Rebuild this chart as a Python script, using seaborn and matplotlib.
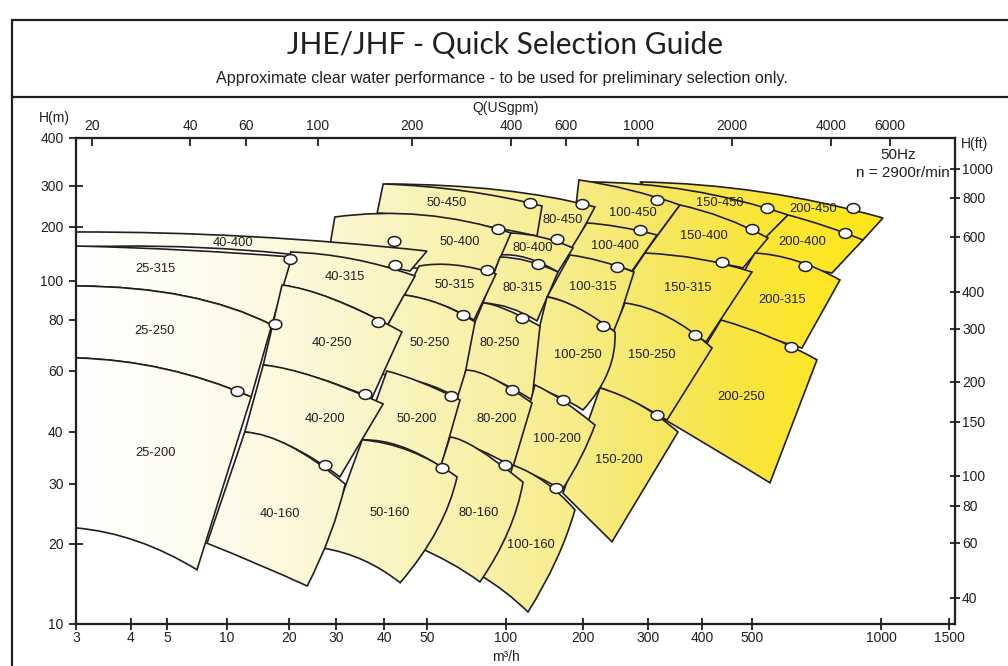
"""
JHE/JHF quick selection guide - pump coverage tiles on the printed
(non-uniform) Q / H grid of the original sheet.
"""
import matplotlib

matplotlib.use("Agg")
import matplotlib.pyplot as plt
import numpy as np
import pandas as pd
import seaborn as sns
from matplotlib.colors import LinearSegmentedColormap
from matplotlib.lines import Line2D
from matplotlib.patches import PathPatch
from matplotlib.path import Path
from matplotlib.ticker import NullLocator

# ─── Printed axis grids (tick value -> where the sheet prints it) ───
Q_GRID = [3, 4, 5, 10, 20, 30, 40, 50, 100, 200, 300, 400, 500, 1000, 1500]
Q_GRID_POS = [76, 131, 167, 227, 289, 336, 384, 427, 506, 583, 648, 702, 752, 881, 949]
H_GRID = [10, 20, 30, 40, 60, 80, 100, 200, 300, 400]
H_GRID_POS = [624, 544, 484, 432, 371, 320, 281, 227, 186, 138]
GPM_GRID = [20, 40, 60, 100, 200, 400, 600, 1000, 2000, 4000, 6000]
GPM_GRID_POS = [92, 190, 246, 318, 412, 511, 566, 638, 732, 831, 890]
FT_GRID = [40, 60, 80, 100, 150, 200, 300, 400, 600, 800, 1000]
FT_GRID_POS = [598, 543, 506, 476, 422, 382, 329, 292, 237, 198, 169]

Q_LIM = (3, 1555)
H_LIM = (10, 400)

# ─── Pump tiles (Q in m3/h, H in m) ───
TILES = ["25-315", "25-250", "25-200", "40-400", "40-315", "40-250", "40-200", "40-160",
         "50-450", "50-400", "50-315", "50-250", "50-200", "50-160",
         "80-450", "80-400", "80-315", "80-250", "80-200", "80-160",
         "100-450", "100-400", "100-315", "100-250", "100-200", "100-160",
         "150-450", "150-400", "150-315", "150-250", "150-200",
         "200-450", "200-400", "200-315", "200-250"]

TOP_LEFT = [(3.0, 156.7), (3.0, 97.2), (3.0, 64.6), (3.0, 187.6), (20.3, 145.1), (18.5, 97.7), (15.0, 62.1), (12.2, 40.0),
            (39.8, 303.7), (29.7, 220.8), (48.0, 121.2), (44.4, 92.3), (40.6, 60.0), (35.1, 38.3),
            (40.4, 303.7), (103.7, 185.2), (94.9, 136.1), (81.7, 88.2), (70.4, 60.3), (61.2, 38.9),
            (192.9, 311.1), (205.0, 208.2), (177.9, 139.6), (144.7, 91.3), (129.8, 54.7), (106.5, 33.3),
            (208.9, 307.4), (355.8, 248.6), (294.4, 143.2), (259.9, 88.2), (222.4, 53.6),
            (285.4, 307.4), (606.7, 225.3), (508.1, 143.2), (435.5, 80.0)]

TOP_RIGHT = [(20.5, 136.1), (16.5, 77.8), (13.1, 50.5), (50.0, 146.9), (47.0, 106.6), (43.9, 74.8), (39.8, 48.2), (31.7, 30.0),
             (138.3, 246.2), (104.6, 185.2), (91.6, 109.4), (76.2, 79.1), (66.8, 49.5), (65.1, 31.2),
             (215.5, 243.8), (182.8, 152.8), (159.7, 112.2), (135.8, 77.3), (126.4, 48.5), (116.6, 30.3),
             (355.8, 248.6), (314.8, 180.5), (274.9, 112.2), (244.2, 74.8), (215.5, 41.9), (186.1, 25.2),
             (606.7, 225.3), (544.9, 173.7), (500.0, 112.2), (418.4, 68.3), (352.0, 40.0),
             (1012, 218.7), (907.8, 169.3), (802.2, 101.3), (709.0, 63.9)]

BOTTOM_RIGHT = [(16.5, 77.8), (13.1, 50.5), (7.07, 16.0), (45.8, 113.7), (40.8, 77.8), (37.2, 50.1), (30.7, 31.2), (23.4, 13.9),
                (132.2, 178.2), (90.0, 112.2), (75.5, 80.0), (66.8, 49.5), (56.5, 33.0), (43.5, 14.3),
                (182.8, 152.8), (159.7, 112.2), (132.2, 79.6), (126.4, 49.5), (106.5, 33.0), (79.6, 14.4),
                (314.8, 178.2), (271.5, 113.7), (244.2, 74.8), (200.0, 46.3), (165.5, 28.8), (121.9, 11.1),
                (542.0, 175.9), (480.4, 118.2), (407.3, 70.7), (331.9, 43.3), (239.7, 20.3),
                (907.8, 169.3), (768.4, 110.8), (654.1, 68.3), (550.8, 30.2)]

BOTTOM_LEFT = [(3.0, 97.2), (3.0, 64.6), (3.0, 22.3), (3.0, 154.7), (18.5, 97.7), (15.0, 62.1), (12.2, 40.0), (7.94, 20.1),
               (38.4, 229.7), (27.8, 127.6), (44.4, 92.3), (35.1, 59.6), (35.1, 38.3), (26.8, 19.3),
               (39.1, 204.1), (94.0, 139.6), (81.7, 88.2), (63.9, 60.3), (58.6, 38.9), (47.0, 19.7),
               (184.5, 210.2), (167.0, 127.6), (144.7, 91.3), (118.7, 54.7), (106.5, 33.1), (79.6, 15.3),
               (251.9, 169.3), (281.8, 127.6), (236.7, 87.2), (211.5, 54.7), (167.0, 28.2),
               (395.9, 169.3), (484.7, 134.3), (424.0, 80.0), (323.3, 43.9)]

# one point read on each curved edge, roughly halfway along it
TOP_MID = [(6.02, 148.9), (6.16, 91.8), (4.94, 60.7), (12.9, 177.0), (33.2, 132.6), (29.2, 90.2), (25.0, 57.7), (20.2, 37.0),
           (69.8, 285.5), (49.0, 225.3), (63.9, 122.8), (56.0, 87.7), (48.2, 55.8), (45.8, 36.0),
           (94.9, 288.4), (137.0, 175.9), (121.9, 129.3), (99.1, 85.2), (88.4, 57.3), (78.2, 36.4),
           (268.2, 288.4), (251.9, 200.0), (222.4, 129.3), (191.2, 85.7), (167.0, 49.2), (142.1, 30.3),
           (375.3, 287.0), (441.3, 218.7), (395.9, 132.6), (333.7, 81.4), (285.4, 47.9),
           (527.6, 282.7), (740.1, 202.0), (636.8, 129.3), (550.8, 72.7)]

BOTTOM_MID = [(6.16, 91.8), (4.94, 60.7), (4.15, 20.4), (12.0, 148.9), (29.2, 90.2), (25.0, 57.7), (20.2, 37.0), (14.1, 16.8),
              (63.9, 212.3), (45.8, 118.2), (56.0, 87.7), (48.2, 55.8), (43.5, 37.0), (35.3, 17.4),
              (79.6, 169.3), (120.8, 134.3), (103.7, 85.7), (86.9, 57.3), (78.2, 36.4), (61.2, 17.0),
              (244.2, 192.4), (222.4, 126.0), (186.1, 86.2), (155.4, 51.2), (133.4, 31.2), (99.1, 13.2),
              (395.9, 180.5), (395.9, 127.6), (319.9, 80.9), (268.2, 49.5), (205.0, 24.0),
              (581.2, 178.2), (613.3, 122.8), (521.9, 73.5), (425.9, 36.2)]

# tiles whose right edge is visibly bowed
RIGHT_MID = {"40-160": (28.5, 21.3), "50-160": (54.6, 22.0), "80-160": (101.8, 21.7),
             "100-160": (156.8, 17.3), "100-250": (233.8, 59.6), "100-200": (196.4, 34.8)}

# best efficiency points (open circles)
BEP = [(20.2, 132.6), (17.1, 78.2), (11.2, 52.5), (42.1, 167.1), (42.4, 122.8), (38.6, 79.1), (35.7, 51.5), (27.3, 33.3),
       (124.1, 253.6), (93.2, 194.9), (84.7, 115.2), (68.6, 82.3), (61.7, 50.8), (57.0, 32.8),
       (198.2, 251.1), (158.2, 171.4), (133.4, 124.4), (115.5, 80.9), (105.5, 52.9), (99.1, 33.3),
       (314.8, 261.2), (285.4, 192.4), (247.3, 119.7), (226.6, 77.3), (167.0, 49.5), (156.8, 29.2),
       (542.0, 241.3), (500.0, 194.9), (437.4, 127.6), (385.5, 73.5), (314.8, 44.8),
       (860.2, 241.3), (824.1, 185.2), (664.8, 121.2), (616.6, 68.7)]

LABEL_AT = [(4.64, 116.7), (4.64, 75.2), (4.67, 35.6), (10.7, 162.8), (31.7, 105.3), (29.0, 70.3), (27.3, 43.6), (18.1, 24.5),
            (59.6, 253.6), (66.8, 165.0), (63.9, 97.7), (51.3, 70.3), (47.5, 43.6), (41.3, 24.7),
            (167.0, 214.4), (127.5, 152.8), (116.6, 96.1), (94.9, 70.3), (92.4, 43.6), (78.9, 24.7),
            (273.3, 229.7), (244.2, 156.7), (212.9, 96.6), (191.2, 65.7), (158.2, 38.5), (125.3, 19.8),
            (433.5, 253.6), (403.6, 178.2), (371.3, 96.1), (306.5, 65.7), (250.4, 34.3),
            (694.0, 238.9), (654.1, 165.0), (587.5, 89.7), (476.2, 50.5)]

# ─── Style ───
GRAD_STOPS = [0.0, 0.14, 0.29, 0.48, 0.57, 0.655, 0.76, 0.88, 1.0]
GRAD_COLORS = ["#FFFFFF", "#FEFDF0", "#FBF7D2", "#F8F0A3", "#F7EC88",
               "#F6E866", "#F9E53F", "#FFE71F", "#FFE714"]
INK = "#231f20"
W, H = 1008, 666


def printed_scale(values, positions):
    """Piecewise log mapping through the sheet's own tick grid."""
    lv = np.log10(np.asarray(values, float))
    ps = np.asarray(positions, float)

    def fwd(v):
        lx = np.log10(np.maximum(np.asarray(v, float), 1e-12))
        mid = np.interp(lx, lv, ps)
        lo = ps[0] + (lx - lv[0]) * (ps[1] - ps[0]) / (lv[1] - lv[0])
        hi = ps[-1] + (lx - lv[-1]) * (ps[-1] - ps[-2]) / (lv[-1] - lv[-2])
        return np.where(lx < lv[0], lo, np.where(lx > lv[-1], hi, mid))

    def inv(p):
        p = np.asarray(p, float)
        mid = np.interp(p, ps, lv)
        lo = lv[0] + (p - ps[0]) * (lv[1] - lv[0]) / (ps[1] - ps[0])
        hi = lv[-1] + (p - ps[-1]) * (lv[-1] - lv[-2]) / (ps[-1] - ps[-2])
        return 10 ** np.where(p < ps[0], lo, np.where(p > ps[-1], hi, mid))

    return fwd, inv


q_fwd, q_inv = printed_scale(Q_GRID, Q_GRID_POS)
h_fwd, h_inv = printed_scale(H_GRID, [-p for p in H_GRID_POS])
g_fwd, g_inv = printed_scale(GPM_GRID, GPM_GRID_POS)
f_fwd, f_inv = printed_scale(FT_GRID, [-p for p in FT_GRID_POS])


def ctrl(p0, mid, p1):
    """Quadratic bezier control point so the edge passes through `mid`."""
    s = lambda p: np.array([float(q_fwd(p[0])), float(h_fwd(p[1]))])
    c = 2 * s(mid) - (s(p0) + s(p1)) / 2
    return (float(q_inv(c[0])), float(h_inv(c[1])))


def tile_path(i):
    name = TILES[i]
    tl, tr, br, bl = TOP_LEFT[i], TOP_RIGHT[i], BOTTOM_RIGHT[i], BOTTOM_LEFT[i]
    verts = [tl, ctrl(tl, TOP_MID[i], tr), tr]
    codes = [Path.MOVETO, Path.CURVE3, Path.CURVE3]
    if name in RIGHT_MID:
        verts += [ctrl(tr, RIGHT_MID[name], br), br]
        codes += [Path.CURVE3, Path.CURVE3]
    else:
        verts += [br]
        codes += [Path.LINETO]
    verts += [ctrl(br, BOTTOM_MID[i], bl), bl, tl]
    codes += [Path.CURVE3, Path.CURVE3, Path.CLOSEPOLY]
    return Path(verts, codes)


def main():
    sns.set_style("white")
    plt.rcParams["font.family"] = ["Liberation Sans", "DejaVu Sans"]

    fig = plt.figure(figsize=(W / 100, H / 100), dpi=100)
    ax = fig.add_axes([76 / W, (H - 624) / H, (955 - 76) / W, (624 - 138) / H])
    ax.set_xscale("function", functions=(q_fwd, q_inv))
    ax.set_yscale("function", functions=(h_fwd, h_inv))
    ax.set_xlim(*Q_LIM)
    ax.set_ylim(*H_LIM)
    ax.set_autoscale_on(False)

    cmap = LinearSegmentedColormap.from_list("sheet", list(zip(GRAD_STOPS, GRAD_COLORS)))
    grad = np.linspace(0, 1, 512).reshape(1, -1)

    # higher heads behind, then right to left inside a row
    order = sorted(range(len(TILES)),
                   key=lambda i: (-int(TILES[i].split("-")[1]), -int(TILES[i].split("-")[0])))
    for k, i in enumerate(order):
        z = 1 + 0.02 * k
        patch = PathPatch(tile_path(i), facecolor="none", edgecolor=INK, lw=1.2, zorder=z + 0.01)
        ax.add_patch(patch)
        im = ax.imshow(grad, cmap=cmap, extent=(0, 1, 0, 1), transform=ax.transAxes,
                       aspect="auto", interpolation="bilinear", zorder=z)
        im.set_clip_path(patch)

    circ = Path.unit_circle()
    ellipse = Path(circ.vertices * np.array([1.3, 1.0]), circ.codes)
    bep = pd.DataFrame(BEP, columns=["Q", "H"])
    sns.scatterplot(data=bep, x="Q", y="H", ax=ax, marker=ellipse, s=85, color="white",
                    edgecolor=INK, linewidth=1.1, zorder=5, legend=False)

    for name, (q, h) in zip(TILES, LABEL_AT):
        ax.text(q, h, name, ha="center", va="center", fontsize=9.3, color=INK, zorder=6)

    ax.set_xlim(*Q_LIM)
    ax.set_ylim(*H_LIM)
    ax.set_xlabel("")
    ax.set_ylabel("")
    ax.set_xticks(Q_GRID)
    ax.set_xticklabels([f"{v:g}" for v in Q_GRID])
    ax.set_yticks(H_GRID)
    ax.set_yticklabels([f"{v:g}" for v in H_GRID])
    ax.xaxis.set_minor_locator(NullLocator())
    ax.yaxis.set_minor_locator(NullLocator())
    ax.tick_params(axis="x", direction="inout", length=8, width=1.3, pad=1,
                   labelsize=10, colors=INK, top=False)
    ax.tick_params(axis="y", direction="inout", length=10, width=1.3, pad=4,
                   labelsize=10, colors=INK, right=False)

    # top: US gpm, right: feet
    ax_t = ax.twiny()
    ax_t.set_xscale("function", functions=(g_fwd, g_inv))
    ax_t.set_xlim(float(g_inv(q_fwd(Q_LIM[0]))), float(g_inv(q_fwd(Q_LIM[1]))))
    ax_t.set_xticks(GPM_GRID)
    ax_t.set_xticklabels([f"{v:g}" for v in GPM_GRID])
    ax_t.xaxis.set_minor_locator(NullLocator())
    ax_t.tick_params(axis="x", direction="in", length=6, width=1.3, pad=3.5,
                     labelsize=10, colors=INK)

    ax_r = ax.twinx()
    ax_r.set_yscale("function", functions=(f_fwd, f_inv))
    ax_r.set_ylim(float(f_inv(h_fwd(H_LIM[0]))), float(f_inv(h_fwd(H_LIM[1]))))
    ax_r.set_yticks(FT_GRID)
    ax_r.set_yticklabels([f"{v:g}" for v in FT_GRID])
    ax_r.yaxis.set_minor_locator(NullLocator())
    ax_r.tick_params(axis="y", direction="inout", length=7, width=1.3, pad=1.5,
                     labelsize=10, colors=INK)

    for a in (ax, ax_t, ax_r):
        for s in a.spines.values():
            s.set_linewidth(1.5)
            s.set_color(INK)

    # sheet frame and headings
    fx = lambda px: px / W
    fy = lambda py: 1 - py / H
    for xs, ys in (([fx(12), fx(12)], [0, fy(20)]),
                   ([fx(12), 1], [fy(20), fy(20)]),
                   ([fx(12), 1], [fy(97), fy(97)])):
        fig.add_artist(Line2D(xs, ys, transform=fig.transFigure, color=INK, lw=1.6))

    fig.text(fx(505), fy(45), "JHE/JHF - Quick Selection Guide", ha="center", va="center",
             fontsize=21.5, family=["Lato", "DejaVu Sans"], color=INK)
    fig.text(fx(502), fy(78), "Approximate clear water performance - to be used for preliminary selection only.",
             ha="center", va="center", fontsize=11.6, color=INK)
    fig.text(fx(506), fy(108), "Q(USgpm)", ha="center", va="center", fontsize=10, color=INK)
    fig.text(fx(54), fy(118), "H(m)", ha="center", va="center", fontsize=10, color=INK)
    fig.text(fx(975), fy(144), "H(ft)", ha="center", va="center", fontsize=10, color=INK)
    fig.text(fx(506), fy(657), "m³/h", ha="center", va="center", fontsize=10, color=INK)
    fig.text(fx(898), fy(155), "50Hz", ha="center", va="center", fontsize=11, color=INK)
    fig.text(fx(950), fy(173), "n = 2900r/min", ha="right", va="center", fontsize=11, color=INK)

    fig.savefig("out.png", dpi=100)
    plt.close(fig)


if __name__ == "__main__":
    main()
